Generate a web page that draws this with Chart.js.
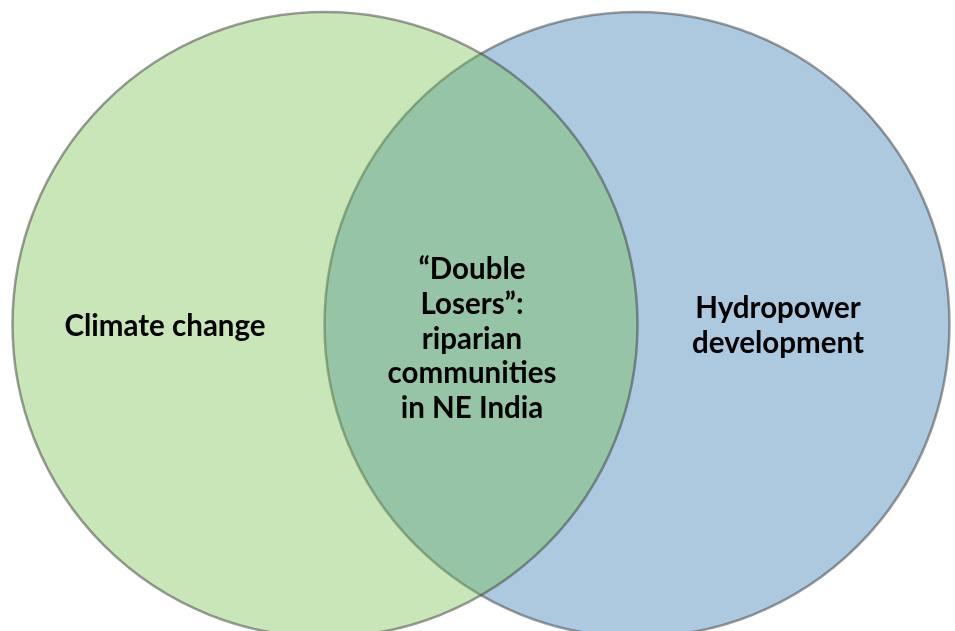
<!DOCTYPE html>
<html>
<head>
<meta charset="utf-8">
<script src="https://cdn.jsdelivr.net/npm/chart.js@4/dist/chart.umd.min.js"></script>
<style>
  html, body { margin: 0; padding: 0; background: #ffffff; }
  #wrap { width: 955px; height: 631px; position: relative; }
</style>
</head>
<body>
<div id="wrap"><canvas id="c" width="955" height="631"></canvas></div>
<script>
// ---- data ----
const setNames = ['Climate change', 'Hydropower development'];
const setCentersX = [325, 637];
const setCentersY = [324.5, 324.5];
const setRadius = [312.5, 312.5];
const intersectionLabel = ['\u201CDouble', 'Losers\u201D:', 'riparian', 'communities', 'in NE India'];
const setLabelLines = [['Climate change'], ['Hydropower', 'development']];

// ---- label anchors (layout) ----
const labelAnchors = [
  { x: 165, y: 326, lines: setLabelLines[0] },
  { x: 778, y: 326, lines: setLabelLines[1] },
  { x: 472, y: 339, lines: intersectionLabel }
];

const labelPlugin = {
  id: 'vennLabels',
  afterDatasetsDraw(chart) {
    const ctx = chart.ctx;
    const xs = chart.scales.x, ys = chart.scales.y;
    ctx.save();
    ctx.fillStyle = '#000000';
    ctx.font = 'bold 29.5px Lato';
    ctx.textAlign = 'center';
    ctx.textBaseline = 'middle';
    const lh = 34.6;
    labelAnchors.forEach(a => {
      const px = xs.getPixelForValue(a.x);
      const py = ys.getPixelForValue(a.y);
      const n = a.lines.length;
      a.lines.forEach((t, i) => {
        ctx.fillText(t, px, py + (i - (n - 1) / 2) * lh);
      });
    });
    ctx.restore();
  }
};

const border = 'rgba(60,60,60,0.5)';

new Chart(document.getElementById('c'), {
  type: 'bubble',
  data: {
    datasets: [
      {
        label: setNames[0],
        data: [{ x: setCentersX[0], y: setCentersY[0], r: setRadius[0] }],
        backgroundColor: 'rgba(113,189,71,0.38)',
        borderColor: border,
        borderWidth: 2.5,
        clip: false
      },
      {
        label: setNames[1],
        data: [{ x: setCentersX[1], y: setCentersY[1], r: setRadius[1] }],
        backgroundColor: 'rgb(173,201,224)',
        borderColor: border,
        borderWidth: 2.5,
        clip: false
      }
    ]
  },
  options: {
    responsive: false,
    animation: false,
    events: [],
    layout: { padding: 0, autoPadding: false },
    plugins: { legend: { display: false }, tooltip: { enabled: false } },
    scales: {
      x: { type: 'linear', min: 0, max: 955, display: false },
      y: { type: 'linear', min: 0, max: 631, reverse: true, display: false }
    }
  },
  plugins: [labelPlugin]
});
</script>
</body>
</html>
